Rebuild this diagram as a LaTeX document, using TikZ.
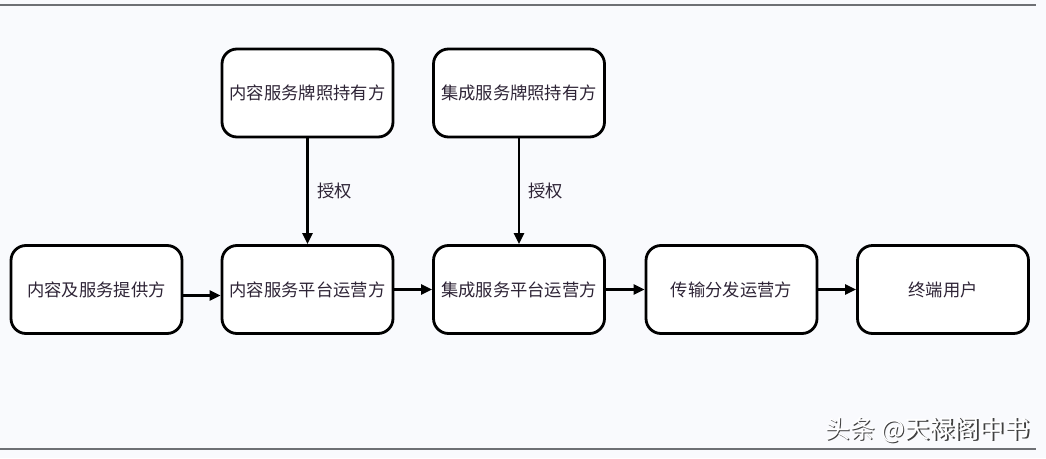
\documentclass[tikz,border=0pt]{standalone}
\usepackage{fontspec}
\newfontfamily\cjk{Noto Sans CJK SC}
\usetikzlibrary{arrows.meta}
\definecolor{bg}{HTML}{F9FAFD}
\definecolor{ink}{HTML}{2E2436}
\definecolor{frame}{HTML}{6E7074}
\tikzset{
  box/.style={draw=black, line width=2.8pt, rounded corners=15pt, fill=white,
    minimum width=171pt, minimum height=88pt, inner sep=0pt,
    font=\cjk\fontsize{17.3}{19}\selectfont, text=ink},
  conn/.style={line width=2.4pt, -{Triangle[length=11pt,width=10pt]}},
  lab/.style={font=\cjk\fontsize{17.3}{19}\selectfont, text=ink},
  wmark/.style={font=\cjk\fontsize{25}{27}\selectfont, anchor=east, inner sep=0pt},
}
\begin{document}
\begin{tikzpicture}[x=1pt,y=-1pt]
\useasboundingbox (0,0) rectangle (1046,458);
\fill[bg] (0,0) rectangle (1046,458);
\draw[frame, line width=1.6pt] (0,5) -- (1036,5);
\draw[frame, line width=1.6pt] (0,449) -- (1036,449);
\node[box] (t1) at (307.5,93) {内容服务牌照持有方};
\node[box] (t2) at (519,93) {集成服务牌照持有方};
\node[box] (b1) at (96.5,289.5) {内容及服务提供方};
\node[box] (b2) at (307.5,289.5) {内容服务平台运营方};
\node[box] (b3) at (519,289.5) {集成服务平台运营方};
\node[box] (b4) at (731.5,289.5) {传输分发运营方};
\node[box] (b5) at (943,289.5) {终端用户};
\draw[conn] (t1) -- node[lab, right=5pt, pos=0.5] {授权} (b2);
\draw[conn] (t2) -- node[lab, right=5pt, pos=0.5] {授权} (b3);
\draw[conn] ([yshift=-6pt]b1.east) -- ([yshift=-6pt]b2.west);
\draw[conn] (b2) -- (b3);
\draw[conn] (b3) -- (b4);
\draw[conn] (b4) -- (b5);
\node[wmark, text=black!75] (wms) at (1031.2,431.2) {头条 @天禄阁中书};
\node[wmark, text=white] (wm) at (1030,430) {头条 @天禄阁中书};
\end{tikzpicture}
\end{document}
